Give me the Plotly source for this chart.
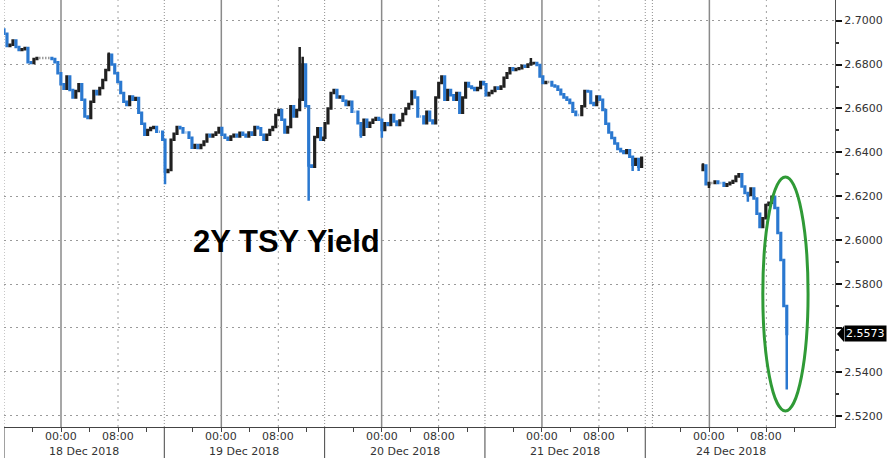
import plotly.graph_objects as go

# 2Y Treasury yield, 18-24 Dec 2018, closes per session
# (one bar every ~25 min, x is trading hours counted from the 18 Dec open)
dec18 = [2.694, 2.6885, 2.689, 2.691, 2.688, 2.6866, 2.687, 2.6875, 2.681, 2.6807,
         2.6825, 2.683, 2.683, 2.683, 2.683, 2.683, 2.6825, 2.681, 2.676, 2.671,
         2.669, 2.6745, 2.6684, 2.665, 2.668, 2.671, 2.664, 2.6563, 2.6557, 2.663,
         2.668, 2.6665, 2.6693, 2.673, 2.6775, 2.6845, 2.680, 2.676, 2.672, 2.667,
         2.663, 2.6616, 2.6654, 2.664, 2.6648, 2.658, 2.653, 2.648, 2.6502, 2.6511,
         2.6516, 2.6494, 2.6494, 2.6457]
dec19 = [2.631, 2.632, 2.6457, 2.6485, 2.6516, 2.651, 2.649, 2.649, 2.6466, 2.6421,
         2.6434, 2.642, 2.6434, 2.645, 2.648, 2.6472, 2.648, 2.649, 2.6511, 2.648,
         2.6466, 2.6457, 2.6472, 2.648, 2.6472, 2.6489, 2.648, 2.6472, 2.649, 2.648,
         2.6516, 2.651, 2.648, 2.6457, 2.648, 2.6502, 2.6516, 2.657, 2.6593, 2.6548,
         2.649, 2.6516, 2.661, 2.6563, 2.6593, 2.664, 2.680, 2.661, 2.634, 2.6335,
         2.647, 2.651, 2.6457, 2.6466]
dec20 = [2.6533, 2.660, 2.667, 2.6684, 2.665, 2.6654, 2.6635, 2.6616, 2.663, 2.6585,
         2.6585, 2.6533, 2.648, 2.6548, 2.6517, 2.6535, 2.6548, 2.6557, 2.6548, 2.6502,
         2.6533, 2.6525, 2.657, 2.654, 2.6525, 2.6545, 2.6575, 2.660, 2.662, 2.6677,
         2.665, 2.6563, 2.6563, 2.6533, 2.6585, 2.6545, 2.6533, 2.665, 2.6716, 2.6745,
         2.664, 2.6684, 2.666, 2.664, 2.667, 2.658, 2.665, 2.6716, 2.670, 2.6693,
         2.6684, 2.6693, 2.672, 2.671]
dec21 = [2.666, 2.667, 2.668, 2.6695, 2.669, 2.670, 2.674, 2.676, 2.6783, 2.6775,
         2.678, 2.6783, 2.6795, 2.679, 2.680, 2.6806, 2.6807, 2.6798, 2.6745, 2.6716,
         2.672, 2.672, 2.6705, 2.670, 2.6685, 2.6665, 2.665, 2.664, 2.6625, 2.6585,
         2.657, 2.657, 2.661, 2.668, 2.6677, 2.6625, 2.6616, 2.6654, 2.664, 2.6593,
         2.653, 2.649, 2.6465, 2.644, 2.6415, 2.6405, 2.6397, 2.641, 2.638, 2.6343,
         2.637, 2.6335, 2.6375]
dec24 = [2.634, 2.6255, 2.626, 2.626, 2.6267, 2.626, 2.626, 2.6248, 2.6255, 2.6262,
         2.627, 2.629, 2.630, 2.6244, 2.6215, 2.6206, 2.6235, 2.619, 2.612, 2.606,
         2.610, 2.616, 2.617, 2.6198, 2.6147, 2.6033, 2.591, 2.570, 2.5573]

sessions = [dec18, dec19, dec20, dec21, dec24]
session_start = [0.0, 22.6, 45.05, 67.65, 98.1]   # hour of first bar
first_open = [2.696, 2.6457, 2.6466, 2.671, 2.632]
bar_hours = 0.42

# wick extremes: (session, bar, value)
wicks = [(0, 35, 2.6855), (1, 0, 2.6255), (1, 45, 2.688), (1, 46, 2.6836),
         (1, 48, 2.618), (2, 12, 2.6466), (2, 19, 2.6466), (2, 39, 2.675),
         (3, 15, 2.683), (3, 49, 2.6315), (3, 51, 2.6315), (4, 0, 2.635),
         (4, 2, 2.6238), (4, 15, 2.6175), (4, 19, 2.6055), (4, 28, 2.532)]

last_price = 2.5573

# axis furniture
day_breaks = [0, 22.5, 45, 67.5, 90, 91]
midnights = [8, 30.5, 53, 75.5, 99]
eights = [16, 38.5, 61, 83.5, 107]
date_labels = ["18 Dec 2018", "19 Dec 2018", "20 Dec 2018", "21 Dec 2018", "24 Dec 2018"]
date_centres = [11.25, 33.75, 56.25, 78.75, 102]
y_ticks = [2.52, 2.54, 2.56, 2.58, 2.60, 2.62, 2.64, 2.66, 2.68, 2.70]

FONT = "DejaVu Sans"


def build_ohlc():
    xs, op, hi, lo, cl = [], [], [], [], []
    for k, closes in enumerate(sessions):
        prev = first_open[k]
        for i, v in enumerate(closes):
            xs.append(session_start[k] + i * bar_hours)
            op.append(prev)
            cl.append(v)
            hi.append(max(prev, v))
            lo.append(min(prev, v))
            prev = v
    # apply wick extremes
    offsets = [0]
    for closes in sessions[:-1]:
        offsets.append(offsets[-1] + len(closes))
    for s, i, v in wicks:
        j = offsets[s] + i
        hi[j] = max(hi[j], v)
        lo[j] = min(lo[j], v)
    return xs, op, hi, lo, cl


def build_chart():
    xs, op, hi, lo, cl = build_ohlc()

    fig = go.Figure(go.Candlestick(
        x=xs, open=op, high=hi, low=lo, close=cl,
        increasing=dict(line=dict(color="#202020", width=2.5), fillcolor="#6e6e6e"),
        decreasing=dict(line=dict(color="#2a78d0", width=2.5), fillcolor="#3f93e8"),
        whiskerwidth=0,
        showlegend=False,
    ))

    shapes = []
    # vertical grid: solid at midnight, dotted at 08:00, dense dots at session breaks
    for h in midnights:
        shapes.append(dict(type="line", xref="x", yref="paper", x0=h, x1=h, y0=0, y1=1,
                           line=dict(color="#8a8a8a", width=1.5), layer="below"))
    for h in eights:
        shapes.append(dict(type="line", xref="x", yref="paper", x0=h, x1=h, y0=0, y1=1,
                           line=dict(color="#a0a0a0", width=1, dash="2px,4px"), layer="below"))
    for h in day_breaks:
        shapes.append(dict(type="line", xref="x", yref="paper", x0=h, x1=h, y0=0, y1=1,
                           line=dict(color="#909090", width=1, dash="1px,2px"), layer="below"))
    # session separators running through the date band
    for h in day_breaks[:5]:
        shapes.append(dict(type="line", xref="x", yref="paper", x0=h, x1=h, y0=-0.075, y1=0,
                           line=dict(color="#444444", width=1)))
    # green highlight around the sell-off
    shapes.append(dict(type="circle", xref="x", yref="y", x0=106.5, x1=112.85,
                       y0=2.5222, y1=2.6288, line=dict(color="#2f9a36", width=3)))
    # pointer of the last-price tag
    shapes.append(dict(type="path", xref="paper", yref="y", xsizemode="pixel", ysizemode="pixel",
                       xanchor=1, yanchor=last_price, path="M 2,0 L 9,8 L 9,-8 Z",
                       fillcolor="black", line=dict(width=0)))

    annotations = []
    for h in midnights:
        annotations.append(dict(x=h, y=-0.0234, xref="x", yref="paper", text="00:00",
                                showarrow=False, yanchor="middle",
                                font=dict(family=FONT, size=11, color="#333")))
    for h in eights:
        annotations.append(dict(x=h, y=-0.0234, xref="x", yref="paper", text="08:00",
                                showarrow=False, yanchor="middle",
                                font=dict(family=FONT, size=11, color="#333")))
    for h, lab in zip(date_centres, date_labels):
        annotations.append(dict(x=h, y=-0.0565, xref="x", yref="paper", text=lab,
                                showarrow=False, yanchor="middle",
                                font=dict(family=FONT, size=11, color="#333")))
    annotations.append(dict(x=26.2, y=2.5996, xref="x", yref="y", text="<b>2Y TSY Yield</b>",
                            showarrow=False, xanchor="left", yanchor="middle",
                            font=dict(family="Liberation Sans, Arial", size=31, color="black")))
    annotations.append(dict(x=1, y=last_price, xref="paper", yref="y", text="2.5573",
                            showarrow=False, xanchor="left", yanchor="middle", xshift=9,
                            bgcolor="black", borderpad=1,
                            font=dict(family=FONT, size=11, color="white")))

    tick_hours = []
    for m in midnights:
        tick_hours += [m - 4, m, m + 4, m + 8, m + 12]

    fig.update_layout(
        width=890, height=458,
        margin=dict(l=4, r=55, t=0, b=31),
        paper_bgcolor="white", plot_bgcolor="white",
        shapes=shapes, annotations=annotations,
        xaxis=dict(range=[0, 116.63], rangeslider=dict(visible=False),
                   showgrid=False, zeroline=False, showline=True,
                   linecolor="#444", linewidth=1,
                   tickmode="array", tickvals=tick_hours, showticklabels=False,
                   ticks="outside", ticklen=4, tickcolor="#444"),
        yaxis=dict(range=[2.5149, 2.7094], side="right",
                   tickmode="array", tickvals=y_ticks,
                   ticktext=["" if v == 2.56 else f"{v:.4f}" for v in y_ticks],
                   showline=True, linecolor="#555", linewidth=1,
                   ticks="outside", ticklen=6, tickwidth=2, tickcolor="#111",
                   minor=dict(tickvals=[2.53, 2.55, 2.57, 2.59, 2.61, 2.63, 2.65, 2.67, 2.69],
                              ticks="outside", ticklen=3, tickcolor="#333", showgrid=False),
                   showgrid=True, gridcolor="#9a9a9a", griddash="2px,4px", gridwidth=1,
                   zeroline=False,
                   tickfont=dict(family=FONT, size=11, color="#333")),
    )
    return fig


fig = build_chart()
# drop the default page margin so the 890x458 figure fills the window exactly
fig.write_html("out.html", config={"displayModeBar": False},
               post_script="document.body.style.margin='0';")
